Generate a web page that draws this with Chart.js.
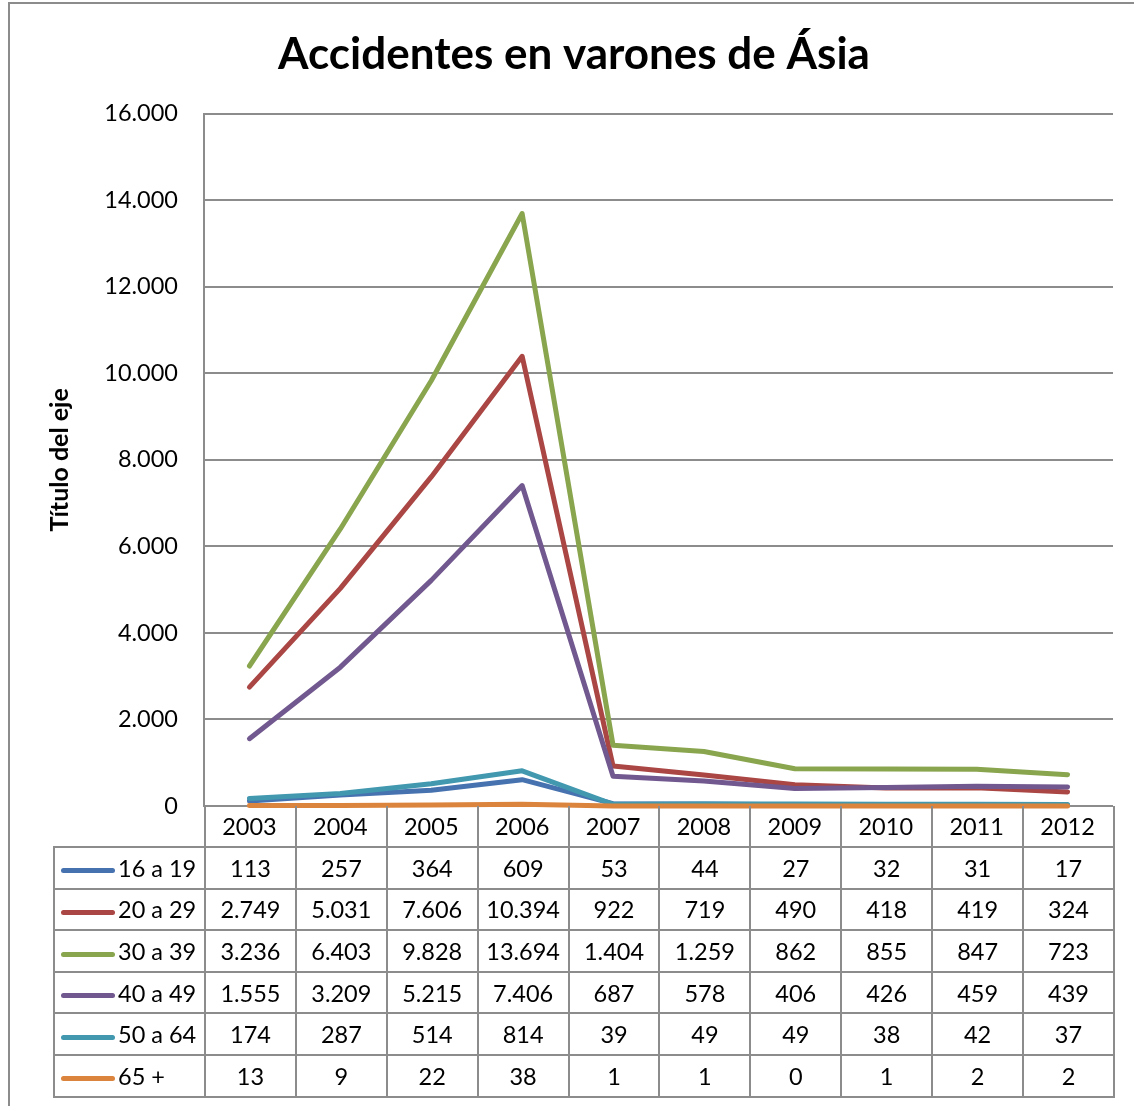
<!DOCTYPE html>
<html lang="es">
<head>
<meta charset="UTF-8">
<title>Accidentes en varones de Ásia</title>
<script src="https://cdn.jsdelivr.net/npm/chart.js"></script>
<style>
    body { margin: 0; background: #fff; font-family: Lato, "Noto Sans", sans-serif; }
    #wrap { position: relative; width: 1134px; height: 1106px; overflow: hidden; }
    #frame { position: absolute; left: 8px; top: 2px; width: 1200px; height: 1200px; border: 2px solid #8c8c8c; }
    canvas { position: absolute; left: 0; top: 0; }
    #datatable { position: absolute; border-collapse: collapse; table-layout: fixed; font-size: 23.5px; color: #000; }
    #datatable td { border: 2px solid #8c8c8c; text-align: center; padding: 0; height: 39.6px; white-space: nowrap; }
    #datatable tr.head td { border-top: none; border-bottom: none; height: 40px; }
    #datatable tr.head td.blank { border-left: none; }
    #datatable td.key { text-align: left; }
    .swatch { display: inline-block; width: 54px; height: 5px; border-radius: 3px; vertical-align: middle; margin: 0 3px 0 6px; }
</style>
</head>
<body>
<div id="wrap">
    <div id="frame"></div>
    <canvas id="chartCanvas" width="1134" height="1106"></canvas>
    <table id="datatable"></table>
</div>
<script>
// chart data
const years = ['2003', '2004', '2005', '2006', '2007', '2008', '2009', '2010', '2011', '2012'];
const groups = ['16 a 19', '20 a 29', '30 a 39', '40 a 49', '50 a 64', '65 +'];
const age16to19 = [113, 257, 364, 609, 53, 44, 27, 32, 31, 17];
const age20to29 = [2749, 5031, 7606, 10394, 922, 719, 490, 418, 419, 324];
const age30to39 = [3236, 6403, 9828, 13694, 1404, 1259, 862, 855, 847, 723];
const age40to49 = [1555, 3209, 5215, 7406, 687, 578, 406, 426, 459, 439];
const age50to64 = [174, 287, 514, 814, 39, 49, 49, 38, 42, 37];
const age65plus = [13, 9, 22, 38, 1, 1, 0, 1, 2, 2];
const colors = ['#4672b0', '#aa4643', '#89a54e', '#71588f', '#4198af', '#db843d'];

const series = [age16to19, age20to29, age30to39, age40to49, age50to64, age65plus];

// plot area in page pixels
const plotLeft = 204, plotTop = 114, plotRight = 1113, plotBottom = 806;
const headH = 42;
const padLeft = 35; // keeps the title centred where excel puts it

function fmt(v) {
    return String(v).replace(/\B(?=(\d{3})+(?!\d))/g, '.');
}

const ctx = document.getElementById('chartCanvas').getContext('2d');
Chart.defaults.font.family = 'Lato, "Noto Sans", sans-serif';
Chart.defaults.color = '#000';

// later series drawn on top (orange last), like excel
const datasets = groups.map((g, i) => ({
    label: g,
    data: series[i],
    borderColor: colors[i],
    backgroundColor: colors[i],
    borderWidth: 5,
    pointRadius: 0,
    tension: 0,
    fill: false,
    clip: false,
    borderCapStyle: 'round',
    borderJoinStyle: 'round',
    order: 6 - i
}));

window.myChart = new Chart(ctx, {
    type: 'line',
    data: { labels: years, datasets: datasets },
    options: {
        responsive: false,
        animation: false,
        layout: { padding: { left: padLeft, top: 0, right: 1134 - plotRight, bottom: 1106 - plotBottom - headH } },
        plugins: {
            legend: { display: false },
            tooltip: { enabled: false },
            title: {
                display: true,
                text: 'Accidentes en varones de Ásia',
                font: { size: 44, weight: 'bold' },
                color: '#000',
                padding: { top: 28, bottom: 33 }
            }
        },
        scales: {
            x: {
                offset: true,
                grid: { display: false, drawOnChartArea: false, drawTicks: false },
                border: { display: false },
                ticks: { font: { size: 23.5 }, padding: 7, maxRotation: 0 },
                afterFit: s => { s.height = headH; }
            },
            y: {
                min: 0,
                max: 16000,
                ticks: { stepSize: 2000, font: { size: 23.5 }, padding: 26, callback: v => fmt(v) },
                grid: { color: '#8c8c8c', lineWidth: 2, drawTicks: false },
                border: { display: true, color: '#8c8c8c', width: 2 },
                title: { display: true, text: 'Título del eje', font: { size: 25, weight: 'bold' }, padding: { top: 10 } },
                afterFit: s => { s.width = plotLeft - padLeft; }
            }
        }
    }
});

// data table under the plot, columns aligned with the x scale
function buildTable(chart) {
    const area = chart.chartArea;
    const colW = (area.right - area.left) / years.length;
    const tableLeft = 53;
    const table = document.getElementById('datatable');
    table.style.left = tableLeft + 'px';
    table.style.top = area.bottom + 'px';
    let html = '<colgroup><col style="width:' + (area.left - tableLeft) + 'px">';
    years.forEach(() => { html += '<col style="width:' + colW + 'px">'; });
    html += '</colgroup>';
    html += '<tr class="head"><td class="blank"></td>';
    years.forEach(() => { html += '<td></td>'; });
    html += '</tr>';
    groups.forEach((g, i) => {
        html += '<tr><td class="key"><span class="swatch" style="background:' + colors[i] + '"></span>' + g + '</td>';
        series[i].forEach(v => { html += '<td>' + fmt(v) + '</td>'; });
        html += '</tr>';
    });
    table.innerHTML = html;
    table.style.width = (area.right - tableLeft) + 'px';
}
buildTable(window.myChart);
</script>
</body>
</html>
